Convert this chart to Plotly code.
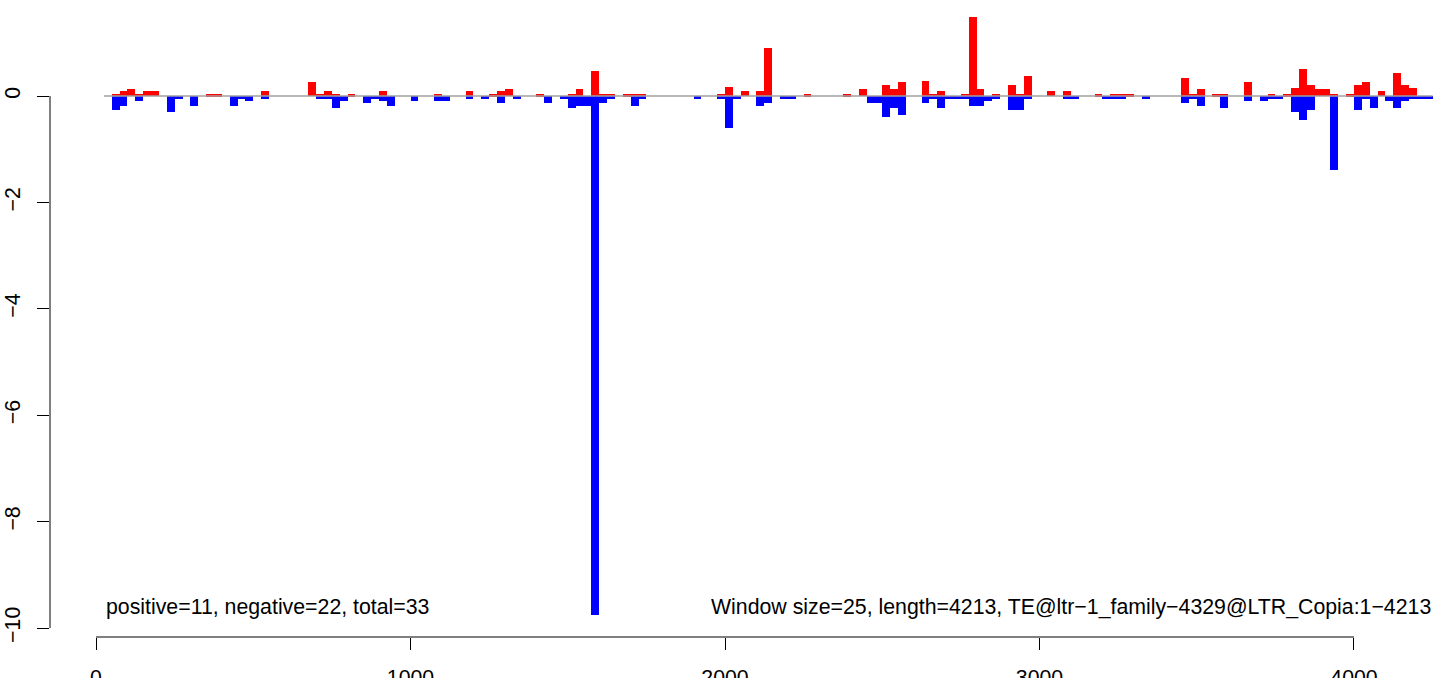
import plotly.graph_objects as go

WINDOW = 25

# window index k -> bar spans [k*25, k*25+25]
pos_windows = [2, 3, 4, 5, 6, 7, 14, 15, 21, 27, 28, 29, 30, 32, 36, 43, 47, 50, 51, 52,
               56, 60, 61, 63, 64, 65, 67, 68, 69, 79, 80, 82, 84, 85, 90, 95, 97, 100,
               101, 102, 105, 106, 107, 110, 111, 112, 114, 116, 117, 118, 121, 123, 127,
               129, 130, 131, 138, 139, 140, 142, 143, 146, 149, 151, 152, 153, 154, 155,
               156, 157, 159, 160, 161, 163, 165, 166, 167]
pos_values = [0.03, 0.09, 0.125, 0.03, 0.09, 0.09, 0.03, 0.03, 0.09, 0.26, 0.03, 0.09, 0.03,
              0.03, 0.09, 0.03, 0.09, 0.03, 0.09, 0.125, 0.03, 0.03, 0.125, 0.47, 0.03, 0.03,
              0.03, 0.03, 0.03, 0.03, 0.17, 0.09, 0.09, 0.9, 0.03, 0.03, 0.125, 0.2, 0.125,
              0.26, 0.29, 0.03, 0.09, 0.03, 1.49, 0.125, 0.03, 0.2, 0.03, 0.37, 0.09, 0.09,
              0.03, 0.03, 0.03, 0.03, 0.33, 0.03, 0.125, 0.03, 0.03, 0.26, 0.03, 0.03, 0.16,
              0.5, 0.2, 0.125, 0.125, 0.03, 0.03, 0.2, 0.26, 0.09, 0.425, 0.2, 0.16]

neg_windows = [2, 3, 5, 9, 10, 12, 17, 18, 19, 21, 28, 29, 30, 31, 34, 35, 36, 37, 40, 43,
               44, 47, 49, 51, 53, 57, 59, 60, 61, 62, 63, 64, 65, 68, 69, 76, 79, 80, 81,
               84, 85, 87, 88, 98, 99, 100, 101, 102, 105, 106, 107, 108, 109, 110, 111, 112,
               113, 114, 116, 117, 118, 123, 124, 128, 129, 130, 133, 138, 139, 140, 143,
               146, 148, 149, 150, 152, 153, 154, 157, 160, 161, 162, 164, 165, 166, 167,
               168, 169]
neg_values = [-0.26, -0.19, -0.09, -0.3, -0.06, -0.19, -0.19, -0.06, -0.09, -0.06, -0.06,
              -0.06, -0.225, -0.09, -0.13, -0.06, -0.09, -0.19, -0.09, -0.09, -0.09, -0.06,
              -0.06, -0.13, -0.06, -0.13, -0.06, -0.225, -0.19, -0.19, -9.76, -0.13, -0.06,
              -0.19, -0.06, -0.06, -0.06, -0.6, -0.06, -0.19, -0.13, -0.06, -0.06, -0.13,
              -0.13, -0.39, -0.225, -0.35, -0.13, -0.06, -0.225, -0.06, -0.06, -0.06, -0.19,
              -0.19, -0.09, -0.06, -0.26, -0.26, -0.06, -0.06, -0.06, -0.06, -0.06, -0.06,
              -0.06, -0.13, -0.06, -0.19, -0.225, -0.09, -0.09, -0.06, -0.06, -0.3, -0.45,
              -0.26, -1.39, -0.26, -0.06, -0.225, -0.09, -0.225, -0.09, -0.06, -0.06, -0.06]

x_ticks = [0, 1000, 2000, 3000, 4000]
y_ticks = [0, -2, -4, -6, -8, -10]
y_tick_text = ["0", "\u22122", "\u22124", "\u22126", "\u22128", "\u221210"]
zero_line_x = [25, 4250]

left_text = "positive=11, negative=22, total=33"
right_text = "Window size=25, length=4213, TE@ltr\u22121_family\u22124329@LTR_Copia:1\u22124213"

FONT = "Liberation Sans, Arial, Helvetica, sans-serif"
FS = 21.3

fig = go.Figure()
fig.add_trace(go.Bar(
    x=[k * WINDOW + WINDOW / 2 for k in pos_windows], y=pos_values, width=WINDOW,
    marker=dict(color="#FF0000", line=dict(width=0)), hoverinfo="x+y"))
fig.add_trace(go.Bar(
    x=[k * WINDOW + WINDOW / 2 for k in neg_windows], y=neg_values, width=WINDOW,
    marker=dict(color="#0000FF", line=dict(width=0)), hoverinfo="x+y"))
fig.add_trace(go.Scatter(
    x=zero_line_x, y=[0, 0], mode="lines",
    line=dict(color="#A0A0A0", width=1.5), hoverinfo="skip"))

fig.update_layout(
    width=1444, height=678,
    margin=dict(l=50, r=0, t=0, b=41, pad=0, autoexpand=False),
    paper_bgcolor="white", plot_bgcolor="white",
    barmode="overlay", bargap=0, showlegend=False,
    font=dict(family=FONT, size=FS, color="black"),
    xaxis=dict(range=[-146.3, 4286.2], tickvals=x_ticks, ticks="outside", ticklen=12,
               tickcolor="black", tickwidth=1, showgrid=False, zeroline=False,
               showline=False, ticklabelstandoff=9, automargin=False,
               tickfont=dict(family=FONT, size=FS, color="black")),
    yaxis=dict(range=[-10.169, 1.805], tickvals=y_ticks, ticktext=y_tick_text,
               ticks="outside", ticklen=12, tickcolor="black", tickwidth=1,
               showgrid=False, zeroline=False, showline=False, tickangle=-90,
               ticklabelstandoff=8, automargin=False,
               tickfont=dict(family=FONT, size=FS, color="black")),
    shapes=[
        dict(type="line", xref="x", yref="paper", x0=x_ticks[0], x1=x_ticks[-1], y0=0, y1=0,
             line=dict(color="black", width=1)),
        dict(type="line", xref="paper", yref="y", x0=0, x1=0, y0=y_ticks[-1], y1=y_ticks[0],
             line=dict(color="black", width=1)),
    ],
    annotations=[
        dict(text=left_text, x=zero_line_x[0], y=-9.6, xref="x", yref="y",
             xanchor="left", yanchor="middle", showarrow=False,
             font=dict(family=FONT, size=FS, color="black")),
        dict(text=right_text, x=zero_line_x[1], y=-9.6, xref="x", yref="y",
             xanchor="right", yanchor="middle", showarrow=False,
             font=dict(family=FONT, size=FS, color="black")),
    ],
)

fig.write_html("out.html", config={"displayModeBar": False},
               post_script="document.body.style.margin='0';document.body.style.padding='0';")
